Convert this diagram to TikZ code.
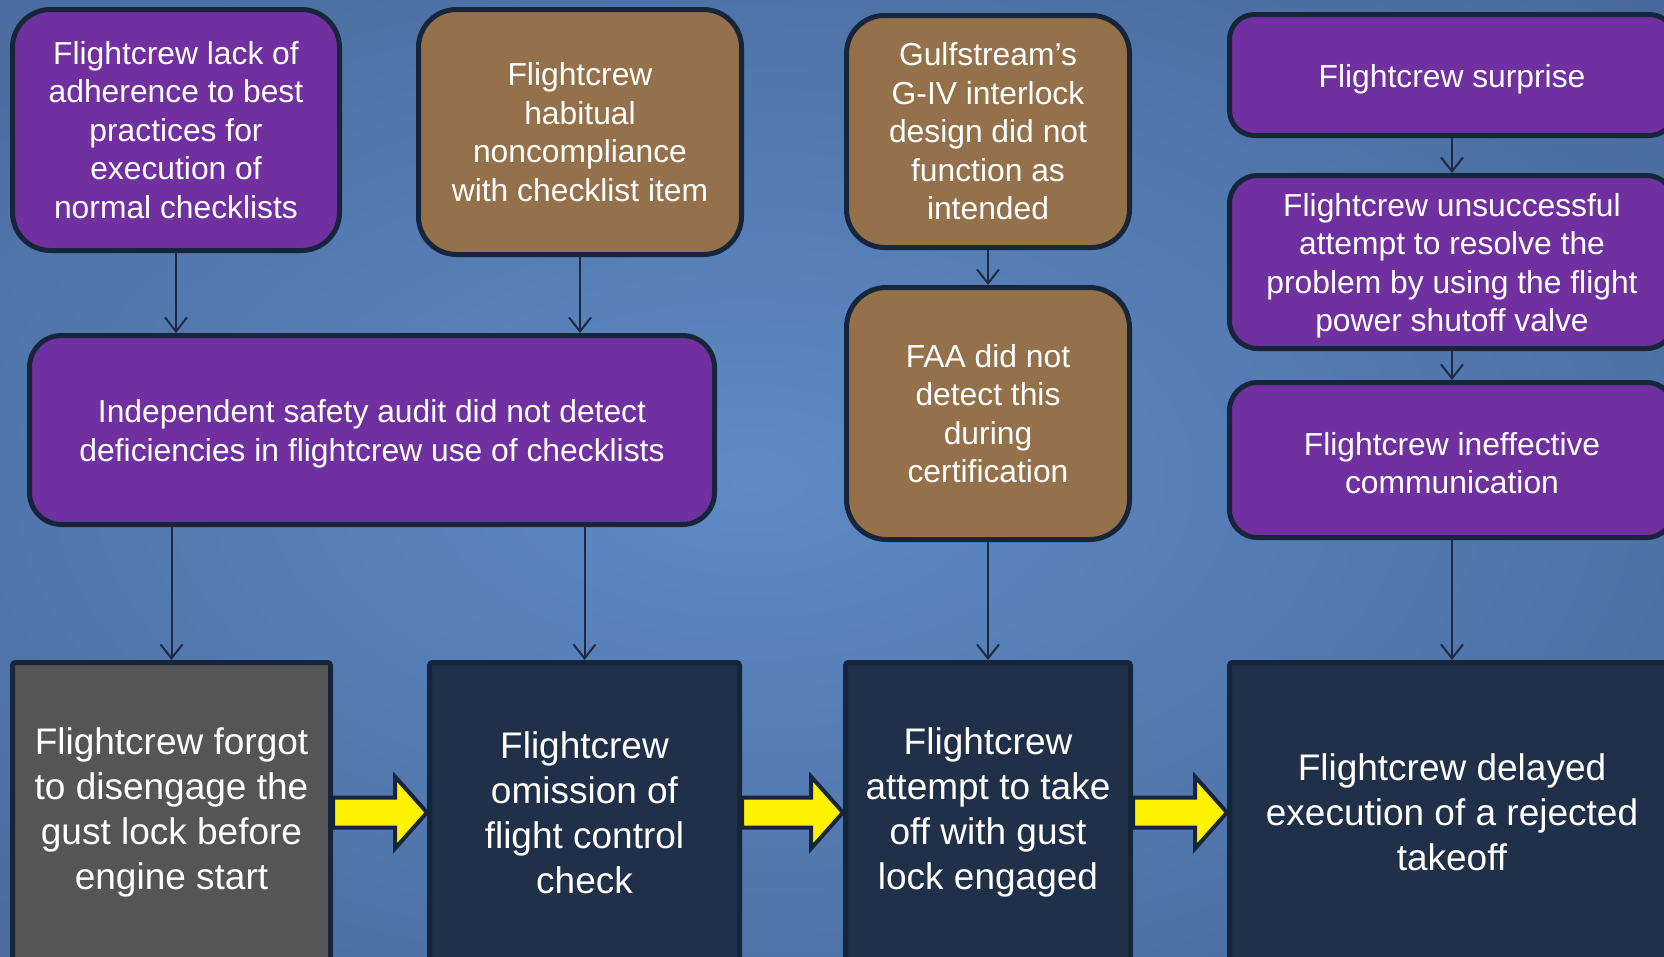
\documentclass[tikz,border=0pt]{standalone}
\usepackage{fontspec}
\setmainfont{Liberation Sans}
\usetikzlibrary{arrows.meta,calc}

\definecolor{bgin}{HTML}{5E8AC6}
\definecolor{bgout}{HTML}{3B5580}
\definecolor{edge}{HTML}{17253A}
\definecolor{purplebox}{HTML}{7030A0}
\definecolor{brownbox}{HTML}{95714B}
\definecolor{navybox}{HTML}{203049}
\definecolor{graybox}{HTML}{555555}
\definecolor{linkcol}{HTML}{1C2B42}

% strut that lowers a text block a little inside its box
\newcommand{\lowerby}[1]{\rule{0pt}{#1}}

\tikzset{
  x=1pt, y=-1pt,
  cause/.style={draw=edge, line width=5pt, text=white, align=center,
    inner sep=0pt, font=\fontsize{31.8}{38.5}\selectfont},
  purplecause/.style={cause, fill=purplebox},
  browncause/.style={cause, fill=brownbox},
  event/.style={draw=edge, line width=5pt, text=white, align=center,
    inner sep=0pt, rounded corners=3pt, minimum height=300pt,
    font=\fontsize{37}{45}\selectfont},
  link/.style={draw=linkcol, line width=2pt,
    -{Straight Barb[length=14pt,width=22pt,line width=2pt]}},
  yarrow/.style={draw=edge, line width=4pt, fill=yellow, line join=miter},
}

\begin{document}
\begin{tikzpicture}
\useasboundingbox (0,0) rectangle (1664,956);

% blue background, lighter towards the middle
\begin{scope}
  \clip (0,0) rectangle (1664,956);
  \shade[inner color=bgin, outer color=bgout]
    (-1250,-640) rectangle (2750,1600);
\end{scope}

% contributing factors
\node[purplecause, minimum width=327pt, minimum height=241pt, rounded corners=38pt]
  (A) at (176,130) {Flightcrew lack of\\adherence to best\\practices for\\execution of\\normal checklists};
\node[browncause, minimum width=323pt, minimum height=245pt, rounded corners=38pt]
  (B) at (580,132) {Flightcrew\\habitual\\noncompliance\\with checklist item};
\node[browncause, minimum width=283pt, minimum height=232pt, rounded corners=38pt]
  (C) at (988,131.5) {Gulfstream’s\\G-IV interlock\\design did not\\function as\\intended};
\node[browncause, minimum width=283pt, minimum height=252pt, rounded corners=40pt]
  (D) at (988,413.5) {FAA did not\\detect this\\during\\certification};
\node[purplecause, minimum width=685pt, minimum height=189pt, rounded corners=32pt]
  (H) at (372,430) {\lowerby{31pt}Independent safety audit did not detect\\deficiencies in flightcrew use of checklists};
\node[purplecause, minimum width=445pt, minimum height=121pt, rounded corners=25pt]
  (E) at (1452,75) {\lowerby{31pt}Flightcrew surprise};
\node[purplecause, minimum width=445pt, minimum height=173pt, rounded corners=28pt]
  (F) at (1452,262) {\lowerby{31pt}Flightcrew unsuccessful\\attempt to resolve the\\problem by using the flight\\power shutoff valve};
\node[purplecause, minimum width=445pt, minimum height=155pt, rounded corners=28pt]
  (G) at (1452,460) {\lowerby{29pt}Flightcrew ineffective\\communication};

% sequence of events
\node[event, fill=graybox, minimum width=318pt] (b1) at (171.5,812.5)
  {Flightcrew forgot\\to disengage the\\gust lock before\\engine start};
\node[event, fill=navybox, minimum width=310pt] (b2) at (584.5,812.5)
  {Flightcrew\\omission of\\flight control\\check};
\node[event, fill=navybox, minimum width=285pt] (b3) at (988,812.5)
  {Flightcrew\\attempt to take\\off with gust\\lock engaged};
\node[event, fill=navybox, minimum width=445pt] (b4) at (1452,812.5)
  {Flightcrew delayed\\execution of a rejected\\takeoff};

% thin connectors
\draw[link] (A.south) -- (A.south |- H.north);
\draw[link] (B.south) -- (B.south |- H.north);
\draw[link] (b1.north |- H.south) -- (b1.north);
\draw[link] (b2.north |- H.south) -- (b2.north);
\draw[link] (C) -- (D);
\draw[link] (D) -- (b3);
\draw[link] (E) -- (F);
\draw[link] (F) -- (G);
\draw[link] (G) -- (b4);

% yellow block arrows between events
\foreach \s/\t in {b1/b2, b2/b3, b3/b4}{
  \draw[yarrow]
    ($(\s.east)+(0,-15)$) -- ($(\t.west)+(-32,-15)$) -- ($(\t.west)+(-32,-36)$)
    -- (\t.west) -- ($(\t.west)+(-32,36)$) -- ($(\t.west)+(-32,15)$)
    -- ($(\s.east)+(0,15)$) -- cycle;
}
\end{tikzpicture}
\end{document}
